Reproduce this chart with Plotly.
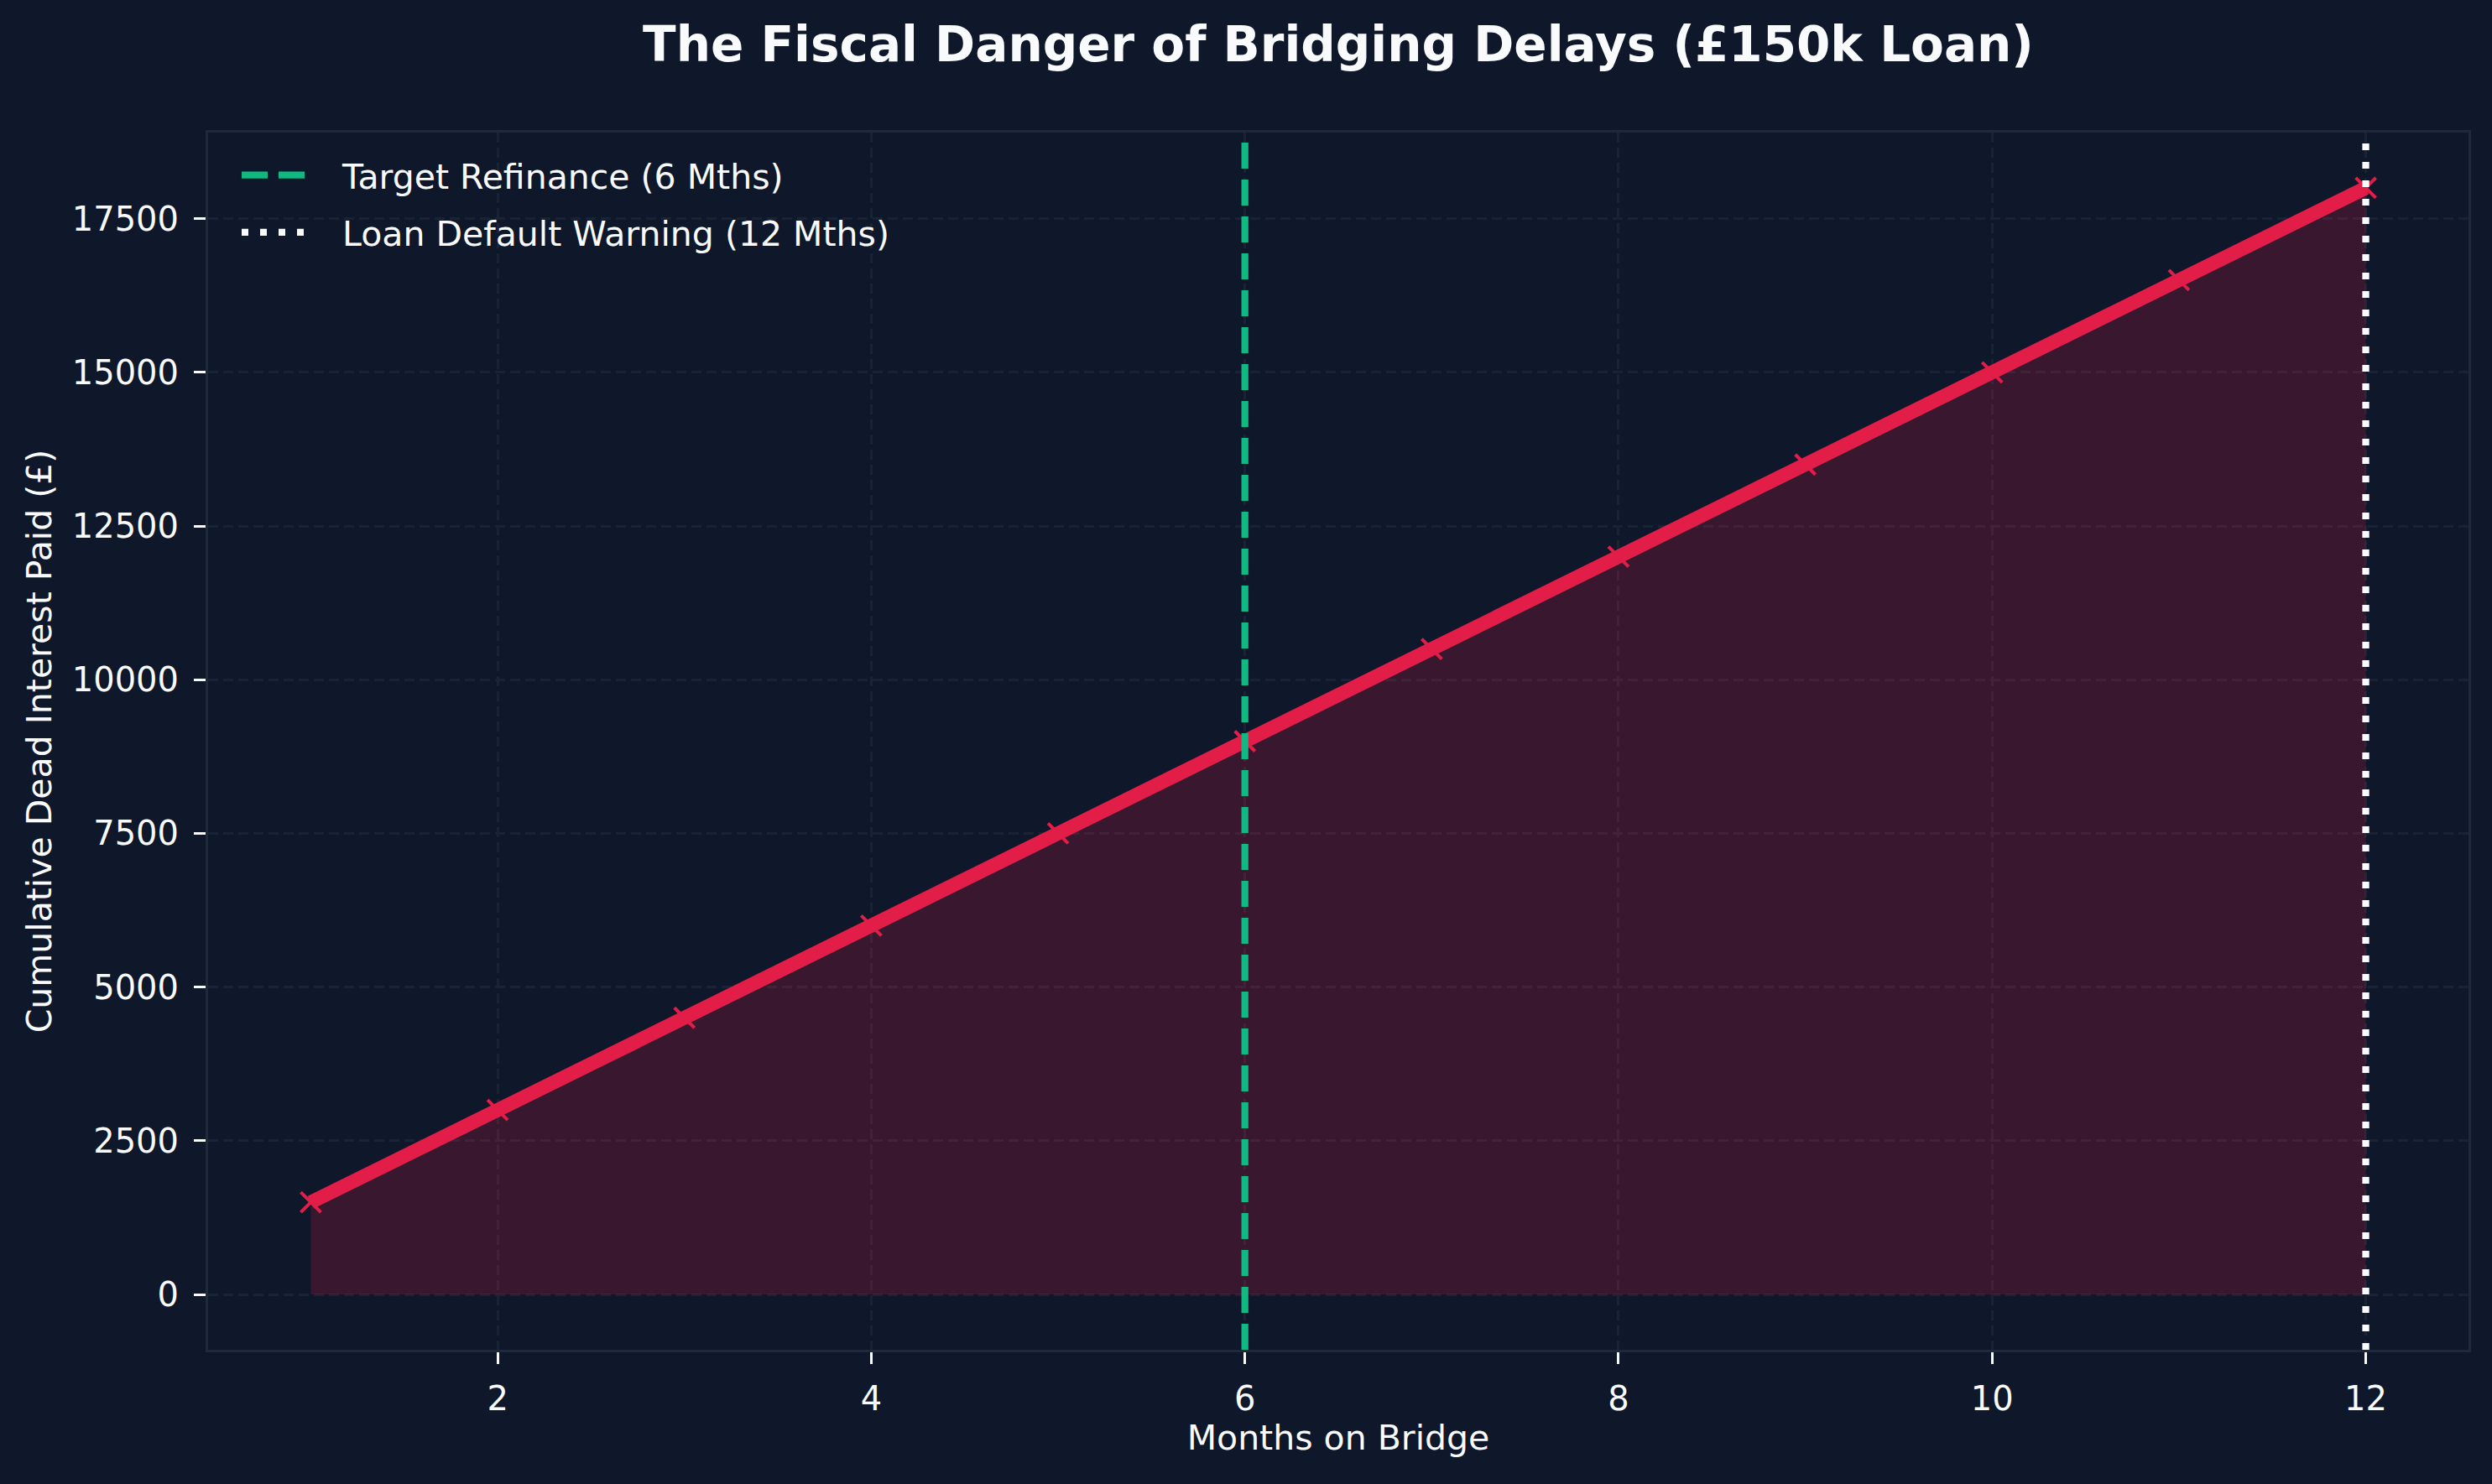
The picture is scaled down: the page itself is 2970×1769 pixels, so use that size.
import plotly.graph_objects as go

months = [1, 2, 3, 4, 5, 6, 7, 8, 9, 10, 11, 12]
cumulative_interest = [1500, 3000, 4500, 6000, 7500, 9000, 10500, 12000, 13500, 15000, 16500, 18000]
target_month = 6
default_month = 12
y_range = [-900, 18900]
x_range = [0.45, 12.55]
y_ticks = [0, 2500, 5000, 7500, 10000, 12500, 15000, 17500]
y_tick_labels = ["0", "2500", "5000", "7500", "10000", "12500", "15000", "17500"]
x_ticks = [2, 4, 6, 8, 10, 12]
x_tick_labels = ["2", "4", "6", "8", "10", "12"]

BG = "#0f172a"
CRIMSON = "#e11d48"
GREEN = "#10b981"
WHITE = "#f8fafc"
SPINE = "#1e293b"
GRID = "#1a2335"
FONT = "DejaVu Sans"
PAD = "\u00a0\u00a0\u00a0"

fig = go.Figure()

# filled area
fig.add_trace(go.Scatter(
    x=months, y=cumulative_interest, mode="lines", fill="tozeroy",
    fillcolor="rgba(225,29,72,0.2)", line=dict(color="rgba(225,29,72,0.35)", width=2),
    showlegend=False, hoverinfo="skip"))

# main line
fig.add_trace(go.Scatter(
    x=months, y=cumulative_interest, mode="lines+markers",
    line=dict(color=CRIMSON, width=16.7),
    marker=dict(symbol="x-thin", size=24, line=dict(color=CRIMSON, width=4), color=CRIMSON),
    showlegend=False))

# vertical reference lines
fig.add_trace(go.Scatter(
    x=[target_month, target_month], y=y_range, mode="lines",
    line=dict(color=GREEN, width=8.3, dash="31px,13px"),
    name=PAD + "Target Refinance (6 Mths)", legendgroup="a"))
fig.add_trace(go.Scatter(
    x=[default_month, default_month], y=y_range, mode="lines",
    line=dict(color=WHITE, width=8.3, dash="8px,14px"),
    name=PAD + "Loan Default Warning (12 Mths)", legendgroup="b"))

axis_common = dict(
    showline=True, mirror=True, linecolor=SPINE, linewidth=3,
    ticks="outside", ticklen=14, tickwidth=3, tickcolor=WHITE,
    tickfont=dict(family=FONT, size=40, color=WHITE),
    showgrid=True, gridcolor=GRID, gridwidth=2.5, griddash="12px,6px",
    zeroline=False,
)

fig.update_layout(
    width=2970, height=1769,
    paper_bgcolor=BG, plot_bgcolor=BG,
    margin=dict(l=248, r=28, t=158, b=160),
    title=dict(text="<b>The Fiscal Danger of Bridging Delays (£150k Loan)</b>",
               x=(248 + 2942) / 2 / 2970, xanchor="center", y=1 - 53 / 1769, yanchor="middle",
               font=dict(family=FONT, size=58, color=WHITE)),
    xaxis=dict(range=x_range, tickvals=x_ticks, ticktext=x_tick_labels, ticklabelstandoff=7,
               title=dict(text="Months on Bridge", font=dict(family=FONT, size=41, color=WHITE), standoff=10),
               **axis_common),
    yaxis=dict(range=y_range, tickvals=y_ticks, ticktext=y_tick_labels, ticklabelstandoff=10,
               title=dict(text="Cumulative Dead Interest Paid (£)", font=dict(family=FONT, size=41, color=WHITE), standoff=12),
               **axis_common),
    legend=dict(x=0.013, y=0.988, xanchor="left", yanchor="top",
                bgcolor="rgba(0,0,0,0)", font=dict(family=FONT, size=41, color=WHITE),
                itemwidth=76, tracegroupgap=12),
    showlegend=True,
)

fig.write_html("out.html")
